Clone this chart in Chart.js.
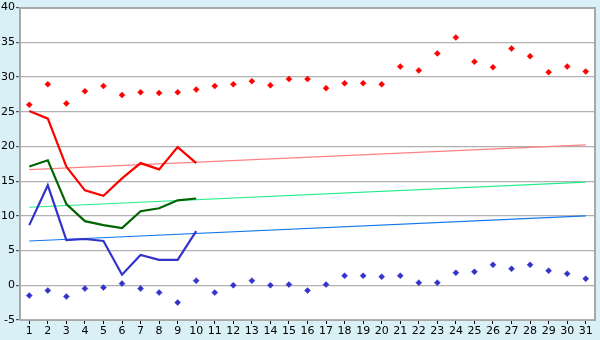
<!DOCTYPE html>
<html>
<head>
<meta charset="utf-8">
<script src="https://cdn.jsdelivr.net/npm/chart.js@4"></script>
<style>
html,body{margin:0;padding:0;background:#d9f0f7;}
#wrap{width:600px;height:340px;}
</style>
</head>
<body>
<div id="wrap"><canvas id="c" width="600" height="340"></canvas></div>
<script>
const days = ['1','2','3','4','5','6','7','8','9','10','11','12','13','14','15','16','17','18','19','20','21','22','23','24','25','26','27','28','29','30','31'];
const highPoints = [26.0,28.95,26.2,27.95,28.7,27.4,27.8,27.7,27.8,28.2,28.7,28.95,29.4,28.8,29.7,29.7,28.4,29.1,29.1,28.95,31.5,30.95,33.4,35.7,32.2,31.4,34.1,33.0,30.7,31.5,30.8];
const lowPoints = [-1.48,-0.76,-1.62,-0.48,-0.33,0.24,-0.48,-1.05,-2.48,0.67,-1.05,0,0.67,0,0.1,-0.76,0.1,1.38,1.38,1.24,1.38,0.38,0.38,1.81,1.95,2.95,2.38,2.95,2.1,1.67,0.95];
const redLine = [25.1,24.0,17.1,13.67,12.9,15.4,17.6,16.7,19.9,17.6];
const greenLine = [17.1,18.0,11.7,9.24,8.67,8.24,10.67,11.1,12.24,12.5];
const blueLine = [8.67,14.4,6.52,6.67,6.38,1.52,4.38,3.67,3.67,7.81];
const redTrend = [16.67,20.24];
const greenTrend = [11.24,14.86];
const blueTrend = [6.38,10.0];
const yTicks = [40,35,30,25,20,15,10,5,0,-5];

function ends(pair){
  const a = days.map(()=>null);
  a[0] = pair[0];
  a[days.length-1] = pair[1];
  return a;
}

const plotBg = {
  id:'plotBg',
  beforeDraw(chart){
    const {ctx, chartArea:a} = chart;
    ctx.save();
    ctx.fillStyle = '#ffffff';
    ctx.fillRect(a.left, a.top, a.right-a.left, a.bottom-a.top);
    ctx.restore();
  },
  afterDatasetsDraw(chart){
    const {ctx, chartArea:a} = chart;
    ctx.save();
    ctx.strokeStyle = '#a8a8a8';
    ctx.lineWidth = 2;
    ctx.beginPath();
    ctx.moveTo(a.left, a.top+0.5);
    ctx.lineTo(a.right, a.top+0.5);
    ctx.lineTo(a.right, a.bottom);
    ctx.stroke();
    ctx.restore();
  }
};

new Chart(document.getElementById('c'), {
  type:'line',
  data:{
    labels: days,
    datasets:[
      {data: redLine, borderColor:'#ff0000', borderWidth:2.2, pointRadius:0, tension:0, fill:false},
      {data: greenLine, borderColor:'#006400', borderWidth:2.2, pointRadius:0, tension:0, fill:false},
      {data: blueLine, borderColor:'#3333cc', borderWidth:2.2, pointRadius:0, tension:0, fill:false},
      {data: ends(redTrend), borderColor:'#ff8080', borderWidth:1.2, pointRadius:0, spanGaps:true, fill:false},
      {data: ends(greenTrend), borderColor:'#22ee88', borderWidth:1.2, pointRadius:0, spanGaps:true, fill:false},
      {data: ends(blueTrend), borderColor:'#1177ee', borderWidth:1.2, pointRadius:0, spanGaps:true, fill:false},
      {data: highPoints, showLine:false, pointStyle:'rectRot', pointRadius:3, pointBackgroundColor:'#ff0000', pointBorderColor:'#ff0000', pointBorderWidth:0.5},
      {data: lowPoints, showLine:false, pointStyle:'rectRot', pointRadius:3, pointBackgroundColor:'#3333cc', pointBorderColor:'#3333cc', pointBorderWidth:0.5}
    ]
  },
  options:{
    responsive:false,
    animation:false,
    events:[],
    layout:{padding:{top:5,right:5,left:0,bottom:0}},
    plugins:{legend:{display:false}, tooltip:{enabled:false}},
    scales:{
      x:{
        type:'category',
        offset:true,
        grid:{drawOnChartArea:false, drawTicks:true, tickLength:4, tickColor:'#000000', offset:false},
        border:{display:true, color:'#a8a8a8', width:1},
        ticks:{color:'#000000', font:{family:'DejaVu Sans', size:11}, padding:1, maxRotation:0, autoSkip:false},
        afterFit(s){ s.height = 20; }
      },
      y:{
        min:-5, max:40,
        afterBuildTicks(s){ s.ticks = yTicks.map(v=>({value:v})); },
        grid:{color:'#b0b0b0', lineWidth:1.2, drawTicks:true, tickLength:4, tickColor:'#555555'},
        border:{display:true, color:'#a8a8a8', width:2},
        ticks:{color:'#000000', font:{family:'DejaVu Sans', size:11}, padding:1, callback:(v)=>String(v)},
        afterFit(s){ s.width = 20; }
      }
    }
  },
  plugins:[plotBg]
});
</script>
</body>
</html>
